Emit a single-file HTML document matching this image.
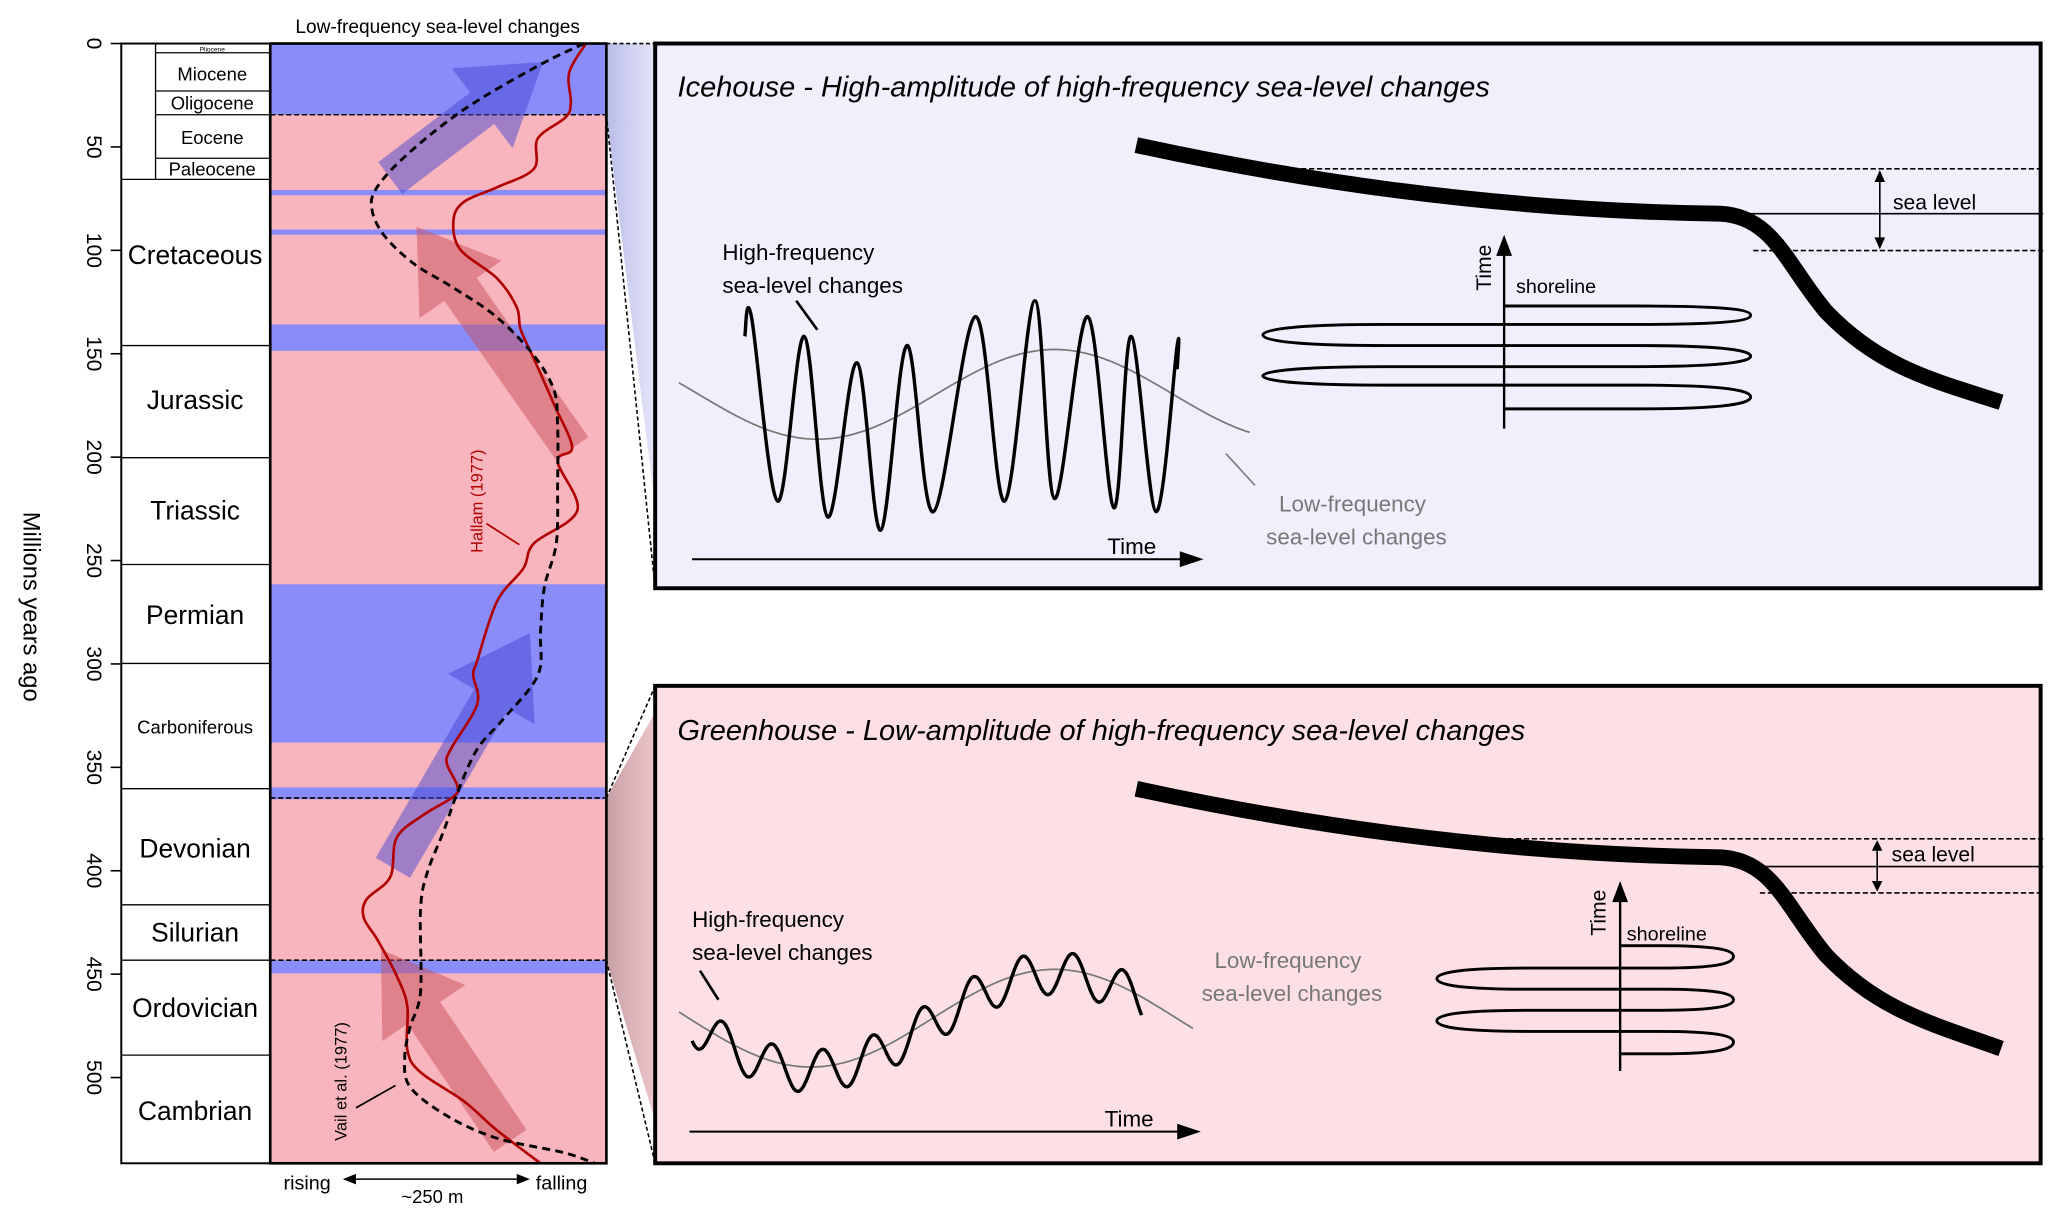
<!DOCTYPE html>
<html><head><meta charset="utf-8">
<style>
html,body{margin:0;padding:0;background:#fff;}
svg{display:block;}
text{font-family:"Liberation Sans",Arial,sans-serif;}
</style></head>
<body>
<svg id="s" width="2067" height="1220" viewBox="0 0 1568 925" preserveAspectRatio="none" xmlns="http://www.w3.org/2000/svg">
<defs>
<linearGradient id="gt" x1="0" x2="1" y1="0" y2="0"><stop offset="0" stop-color="#b9bce8"/><stop offset="1" stop-color="#e6e6f8"/></linearGradient>
<linearGradient id="gb" x1="0" x2="1" y1="0" y2="0"><stop offset="0" stop-color="#c7a0a6"/><stop offset="1" stop-color="#ecc6cb"/></linearGradient>
</defs>
<rect width="1568" height="925" fill="#fff"/>
<polygon points="460,33 497,33 497,385 460,87" fill="url(#gt)"/>
<polygon points="460,605 497,540 497,850 460,728" fill="url(#gb)"/>
<g stroke="#000" stroke-width="1.2" stroke-dasharray="3,2" fill="none">
<line x1="460" y1="33" x2="497" y2="33"/><line x1="460" y1="87" x2="497" y2="446"/>
<line x1="460" y1="605" x2="497" y2="520"/><line x1="460" y1="728" x2="497" y2="882"/>
</g>
<rect x="205" y="33" width="255" height="849" fill="#f9b5bd"/>
<g fill="#8a8cfa">
<rect x="205" y="33" width="255" height="54"/>
<rect x="205" y="144" width="255" height="4"/>
<rect x="205" y="174" width="255" height="4"/>
<rect x="205" y="246" width="255" height="20"/>
<rect x="205" y="443" width="255" height="120"/>
<rect x="205" y="597" width="255" height="9"/>
<rect x="205" y="728" width="255" height="10"/>
</g>
<g stroke="#000" stroke-width="1.2" stroke-dasharray="4,2">
<line x1="205" y1="87" x2="460" y2="87"/><line x1="205" y1="605" x2="460" y2="605"/><line x1="205" y1="728" x2="460" y2="728"/>
</g>
<g id="arrows"></g>
<path id="red" fill="none" stroke="#b00000" stroke-width="2"/>
<path id="dash" fill="none" stroke="#000" stroke-width="2.2" stroke-dasharray="6,4"/>
<rect x="92" y="33" width="113" height="849" fill="#fff" stroke="#000" stroke-width="1.5"/>
<rect x="205" y="33" width="255" height="849" fill="none" stroke="#000" stroke-width="2"/>
<g stroke="#000" stroke-width="1">
<line x1="118" y1="33" x2="118" y2="136"/>
<line x1="118" y1="40" x2="205" y2="40"/><line x1="118" y1="69" x2="205" y2="69"/><line x1="118" y1="87" x2="205" y2="87"/><line x1="118" y1="120" x2="205" y2="120"/>
<line x1="92" y1="136" x2="205" y2="136"/><line x1="92" y1="262" x2="205" y2="262"/><line x1="92" y1="347" x2="205" y2="347"/><line x1="92" y1="428" x2="205" y2="428"/><line x1="92" y1="503" x2="205" y2="503"/><line x1="92" y1="598" x2="205" y2="598"/><line x1="92" y1="686" x2="205" y2="686"/><line x1="92" y1="728" x2="205" y2="728"/><line x1="92" y1="800" x2="205" y2="800"/>
</g>
<g font-size="14" text-anchor="middle">
<text x="161" y="39" font-size="5">Pliocene</text>
<text x="161" y="61">Miocene</text>
<text x="161" y="83">Oligocene</text>
<text x="161" y="109">Eocene</text>
<text x="161" y="133">Paleocene</text>
</g>
<g font-size="20" text-anchor="middle">
<text x="148" y="200">Cretaceous</text>
<text x="148" y="310">Jurassic</text>
<text x="148" y="394">Triassic</text>
<text x="148" y="473">Permian</text>
<text x="148" y="556" font-size="14">Carboniferous</text>
<text x="148" y="650">Devonian</text>
<text x="148" y="714">Silurian</text>
<text x="148" y="771">Ordovician</text>
<text x="148" y="849">Cambrian</text>
</g>
<g id="ticks" font-size="16" text-anchor="middle"></g>
<text transform="translate(18,460) rotate(90)" font-size="18" text-anchor="middle">Millions years ago</text>
<text x="332" y="25" font-size="14.5" text-anchor="middle">Low-frequency sea-level changes</text>
<text transform="translate(366,380) rotate(-90)" font-size="12.5" fill="#b00000" text-anchor="middle">Hallam (1977)</text>
<line x1="369" y1="397" x2="394" y2="413" stroke="#b00000" stroke-width="1.3"/>
<text transform="translate(263,820) rotate(-90)" font-size="12.5" text-anchor="middle">Vail et al. (1977)</text>
<line x1="270" y1="840" x2="300" y2="823" stroke="#000" stroke-width="1.3"/>
<text x="233" y="902" font-size="15" text-anchor="middle">rising</text>
<text x="426" y="902" font-size="15" text-anchor="middle">falling</text>
<text x="328" y="912" font-size="14" text-anchor="middle">~250 m</text>
<line x1="266" y1="894" x2="396" y2="894" stroke="#000" stroke-width="1.2"/>
<polygon points="260,894 270,890 270,898"/><polygon points="402,894 392,890 392,898"/>

<rect x="497" y="33" width="1051" height="413" fill="#f0f0fc" stroke="#000" stroke-width="3"/>
<text x="514" y="73" font-size="22" font-style="italic">Icehouse - High-amplitude of high-frequency sea-level changes</text>
<path d="M862,110 C1000,140 1150,160 1305,162 C1345,164 1355,200 1385,236 C1425,278 1465,288 1518,305" fill="none" stroke="#000" stroke-width="12"/>
<g stroke="#000" stroke-width="1.2" fill="none">
<line x1="975" y1="128" x2="1550" y2="128" stroke-dasharray="4,2"/>
<line x1="1318" y1="162" x2="1550" y2="162"/>
<line x1="1330" y1="190" x2="1550" y2="190" stroke-dasharray="4,2"/>
<line x1="1426" y1="136" x2="1426" y2="182"/>
<line x1="1141" y1="325" x2="1141" y2="190" stroke-width="1.8"/>
<line x1="525" y1="424" x2="900" y2="424" stroke-width="1.5"/>
<path d="M1141,232 H1240 C1300,232 1328,234 1328,239 C1328,244 1300,246 1240,246 H1050 C990,246 958,249 958,254 C958,259 990,262 1050,262 H1240 C1300,262 1328,265 1328,270 C1328,275 1300,278 1240,278 H1050 C990,278 958,281 958,285 C958,289 990,292 1050,292 H1240 C1300,292 1328,295 1328,301 C1328,307 1300,310 1240,310 H1141" stroke-width="2.2"/>
<line x1="604" y1="228" x2="620" y2="250" stroke-width="2"/>
<line x1="930" y1="344" x2="952" y2="368" stroke="#777"/>
</g>
<polygon points="1426,129 1422,138 1430,138"/><polygon points="1426,189 1422,180 1430,180"/>
<polygon points="1141,178 1135,194 1147,194"/>
<polygon points="913,424 895,418 895,430"/>
<text x="1436" y="159" font-size="16">sea level</text>
<text transform="translate(1131,203) rotate(-90)" font-size="16" text-anchor="middle">Time</text>
<text x="1150" y="222" font-size="15">shoreline</text>
<text x="548" y="197" font-size="17">High-frequency</text>
<text x="548" y="222" font-size="17">sea-level changes</text>
<text x="1026" y="388" font-size="17" fill="#777" text-anchor="middle">Low-frequency</text>
<text x="1029" y="413" font-size="17" fill="#777" text-anchor="middle">sea-level changes</text>
<text x="840" y="420" font-size="17">Time</text>
<path id="g1" fill="none" stroke="#777" stroke-width="1.3"/>
<path id="b1" fill="none" stroke="#000" stroke-width="2.6"/>

<rect x="497" y="520" width="1051" height="362" fill="#fde0e4" stroke="#000" stroke-width="3"/>
<text x="514" y="561" font-size="22" font-style="italic">Greenhouse - Low-amplitude of high-frequency sea-level changes</text>
<path d="M862,598 C1000,628 1150,648 1305,650 C1345,652 1355,688 1385,724 C1425,766 1465,776 1518,795" fill="none" stroke="#000" stroke-width="12"/>
<g stroke="#000" stroke-width="1.2" fill="none">
<line x1="1090" y1="636" x2="1550" y2="636" stroke-dasharray="4,2"/>
<line x1="1320" y1="657" x2="1550" y2="657"/>
<line x1="1335" y1="677" x2="1550" y2="677" stroke-dasharray="4,2"/>
<line x1="1424" y1="643" x2="1424" y2="670"/>
<line x1="1229" y1="812" x2="1229" y2="680" stroke-width="1.8"/>
<line x1="523" y1="858" x2="898" y2="858" stroke-width="1.5"/>
<path d="M1229,717 H1260 C1300,717 1315,720 1315,725 C1315,731 1300,734 1260,734 H1160 C1110,734 1090,737 1090,742 C1090,747 1110,750 1160,750 H1260 C1300,750 1315,753 1315,758 C1315,763 1300,766 1260,766 H1160 C1110,766 1090,769 1090,774 C1090,779 1110,782 1160,782 H1260 C1300,782 1315,785 1315,790 C1315,796 1300,799 1260,799 H1229" stroke-width="2.2"/>
<line x1="531" y1="736" x2="545" y2="758" stroke-width="2"/>
</g>
<polygon points="1424,637 1420,645 1428,645"/><polygon points="1424,676 1420,668 1428,668"/>
<polygon points="1229,668 1223,684 1235,684"/>
<polygon points="911,858 893,852 893,864"/>
<text x="1435" y="653" font-size="16">sea level</text>
<text transform="translate(1218,692) rotate(-90)" font-size="16" text-anchor="middle">Time</text>
<text x="1234" y="713" font-size="15">shoreline</text>
<text x="525" y="703" font-size="17">High-frequency</text>
<text x="525" y="728" font-size="17">sea-level changes</text>
<text x="977" y="734" font-size="17" fill="#777" text-anchor="middle">Low-frequency</text>
<text x="980" y="759" font-size="17" fill="#777" text-anchor="middle">sea-level changes</text>
<text x="838" y="854" font-size="17">Time</text>
<path id="g2" fill="none" stroke="#777" stroke-width="1.3"/>
<path id="b2" fill="none" stroke="#000" stroke-width="2.6"/>
</svg>
<script>
function sm(p){var d="M"+p[0][0]+","+p[0][1];for(var i=1;i<p.length;i++){var a=p[i-1],b=p[i],c0=p[i-2]||a,c3=p[i+1]||b;
d+=" C"+(a[0]+(b[0]-c0[0])/6).toFixed(1)+","+(a[1]+(b[1]-c0[1])/6).toFixed(1)+" "+(b[0]-(c3[0]-a[0])/6).toFixed(1)+","+(b[1]-(c3[1]-a[1])/6).toFixed(1)+" "+b[0]+","+b[1];}return d;}
var red=[[444.5,33],[431.8,55],[433,78],[429,89],[408,105],[405,128],[377,142],[352,153],[344,167],[349,189],[377,211],[392,233],[395,250],[405,272],[420,306],[434,339],[423,350],[438,387],[405,412],[397,431],[377,456],[362,501],[359,512],[362,534],[342,568],[339,579],[347,596],[344,604],[321,618],[301,635],[296,665],[278,682],[276,696],[286,712],[301,740],[309,763],[309,796],[319,813],[352,835],[377,857],[410,882]];
var dash=[[443,33],[408,50],[352,83],[309,117],[286,142],[282,158],[291,178],[314,200],[342,217],[375,239],[403,267],[420,295],[423,323],[423,367],[422,412],[413,445],[410,479],[408,512],[382,545],[362,568],[347,601],[337,629],[324,662],[319,690],[319,752],[311,779],[307,802],[311,824],[339,846],[377,863],[428,874],[451,882]];
document.getElementById("red").setAttribute("d",sm(red));
document.getElementById("dash").setAttribute("d",sm(dash));
function arrow(x1,y1,x2,y2,col){var dx=x2-x1,dy=y2-y1,L=Math.hypot(dx,dy),ux=dx/L,uy=dy/L,nx=-uy,ny=ux,w=15,hw=38,hl=58;
var bx=x2-ux*hl,by=y2-uy*hl;var pts=[[x1+nx*w,y1+ny*w],[bx+nx*w,by+ny*w],[bx+nx*hw,by+ny*hw],[x2,y2],[bx-nx*hw,by-ny*hw],[bx-nx*w,by-ny*w],[x1-nx*w,y1-ny*w]];
return '<polygon fill="'+col+'" points="'+pts.map(function(p){return p[0].toFixed(1)+","+p[1].toFixed(1)}).join(" ")+'"/>';}
var B="rgba(70,70,210,0.5)",R="rgba(200,80,90,0.5)";
document.getElementById("arrows").innerHTML=arrow(296,135,412,47,B)+arrow(434,340,316,172,R)+arrow(298,658,402,480,B)+arrow(387,865,289,720,R);
var t="",T=document.getElementById("ticks");
for(var m=0;m<=500;m+=50){var y=33+m*1.568;t+='<line x1="84" y1="'+y+'" x2="92" y2="'+y+'" stroke="#000" stroke-width="1.2"/><text transform="translate(66,'+y+') rotate(90)">'+m+'</text>';}
T.innerHTML=t;
function wave(id,f,a,b){var s="";for(var x=a;x<=b;x+=1){s+=(x==a?"M":"L")+x+","+f(x).toFixed(1)+" ";}document.getElementById(id).setAttribute("d",s);}
var P=2*Math.PI;
var g1=function(x){return 299-34*Math.cos(P*(x-800)/360)};
wave("g1",g1,515,948);
var pk=[[570,240],[610,255],[650,275],[688,262],[740,240],[785,228],[825,240],[858,255],[893,262]],tr=[[590,380],[628,392],[668,402],[708,388],[762,380],[800,378],[845,385],[877,388]];
var all=[[565,255]];for(var i=0;i<pk.length;i++){all.push(pk[i]);if(tr[i])all.push(tr[i]);}all.push([893,280]);
all.sort(function(a,b){return a[0]-b[0]});
document.getElementById("b1").setAttribute("d",sm(all));
var g2=function(x){return 772-37*Math.cos(P*(x-800)/370)};
wave("g2",g2,515,905);
wave("b2",function(x){return g2(x)+3-16*Math.cos(P*(x-548)/38)},525,866);
</script>
</body></html>
